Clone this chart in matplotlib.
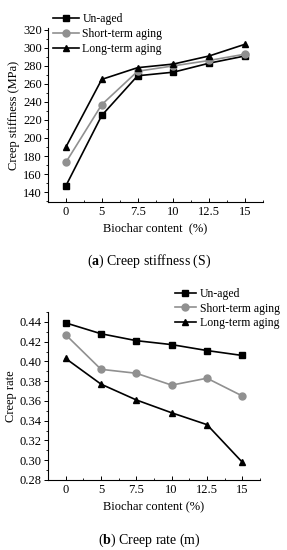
import matplotlib
matplotlib.use("Agg")
import matplotlib.pyplot as plt
from matplotlib.ticker import MultipleLocator, AutoMinorLocator, FormatStrFormatter

plt.rcParams['font.family'] = ['Liberation Serif', 'DejaVu Serif']
plt.rcParams['mathtext.fontset'] = 'custom'
plt.rcParams['mathtext.rm'] = 'Liberation Serif'
plt.rcParams['mathtext.bf'] = 'Liberation Serif:bold'

categories = ['0', '5', '7.5', '10', '12.5', '15']
series = ['Un-aged', 'Short-term aging', 'Long-term aging']

stiff_unaged = [147, 225, 269, 273, 283, 291]
stiff_short = [173, 237, 274, 280, 286, 293]
stiff_long = [190, 265, 278, 282, 291, 304]

rate_unaged = [0.439, 0.428, 0.421, 0.417, 0.411, 0.406]
rate_short = [0.427, 0.392, 0.388, 0.376, 0.383, 0.365]
rate_long = [0.403, 0.377, 0.361, 0.348, 0.336, 0.298]

styles = [dict(color='black', marker='s', mfc='black', mec='black'),
          dict(color='#909090', marker='o', mfc='#909090', mec='#909090'),
          dict(color='black', marker='^', mfc='black', mec='black')]

fig = plt.figure(figsize=(2.87, 5.50), dpi=100)
fs = 9
x = list(range(len(categories)))

def style_axes(ax):
    for s in ['top', 'right']:
        ax.spines[s].set_visible(False)
    for s in ['left', 'bottom']:
        ax.spines[s].set_linewidth(0.8)
    ax.set_xticks(x)
    ax.set_xticklabels(categories, fontsize=fs)
    ax.xaxis.set_minor_locator(MultipleLocator(0.5))
    ax.tick_params(axis='x', which='major', direction='in', length=3, width=0.7, pad=3)
    ax.tick_params(axis='x', which='minor', direction='in', length=1.5, width=0.6)
    ax.tick_params(axis='y', which='major', direction='out', length=3, width=0.7, labelsize=fs, pad=1.5)
    ax.tick_params(axis='y', which='minor', direction='out', length=1.5, width=0.6)
    ax.yaxis.set_minor_locator(AutoMinorLocator(2))
    ax.set_xlim(-0.5, 5.5)

# Top chart
ax1 = fig.add_axes([48/287, 1-202/550, 215/287, 174/550])
for vals, name, st in zip([stiff_unaged, stiff_short, stiff_long], series, styles):
    ax1.plot(x, vals, label=name, lw=1.2, ms=5, **st)
ax1.set_ylim(129, 322)
ax1.yaxis.set_major_locator(MultipleLocator(20))
style_axes(ax1)
ax1.set_ylabel('Creep stiffness (MPa)', fontsize=fs, labelpad=2)
ax1.set_xlabel('Biochar content  (%)', fontsize=fs, labelpad=3)
ax1.legend(loc='upper left', bbox_to_anchor=(0.0, 1.112), frameon=False, fontsize=8.5,
           handlelength=2.2, handletextpad=0.3, labelspacing=0.25, borderaxespad=0)
fig.text(149/287, 1-261/550, r'($\mathbf{a}$) Creep stiffness (S)', ha='center', va='center', fontsize=10)

# Bottom chart
ax2 = fig.add_axes([48/287, 1-480/550, 212/287, 168/550])
for vals, name, st in zip([rate_unaged, rate_short, rate_long], series, styles):
    ax2.plot(x, vals, label=name, lw=1.2, ms=5, **st)
ax2.set_ylim(0.28, 0.45)
ax2.yaxis.set_major_locator(MultipleLocator(0.02))
ax2.yaxis.set_major_formatter(FormatStrFormatter('%.2f'))
style_axes(ax2)
ax2.set_ylabel('Creep rate', fontsize=fs, labelpad=2)
ax2.set_xlabel('Biochar content (%)', fontsize=fs, labelpad=3)
ax2.legend(loc='upper right', bbox_to_anchor=(1.115, 1.17), frameon=False, fontsize=8.5,
           handlelength=1.8, handletextpad=0.3, labelspacing=0.2, borderaxespad=0)
fig.text(149/287, 1-540/550, r'($\mathbf{b}$) Creep rate (m)', ha='center', va='center', fontsize=10)

fig.savefig('out.png', dpi=100)
